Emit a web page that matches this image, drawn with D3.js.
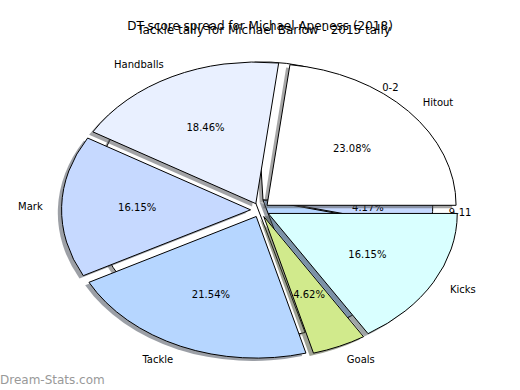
<!DOCTYPE html>
<html><head><meta charset="utf-8">
<script src="https://cdn.jsdelivr.net/npm/d3@7/dist/d3.min.js"></script>
<style>
html,body{margin:0;padding:0;background:#fff;}
text{font-family:"DejaVu Sans",sans-serif;}
</style></head>
<body><div id="chart"></div>
<script>
// Foreground chart: Tackle tally for Michael Barlow - 2015
const fgTitle = "Tackle tally for Michael Barlow - 2015 tally";
const fgCategories = ["Hitout","Handballs","Mark","Tackle","Goals","Kicks"];
const fgValues = [30,24,21,28,6,21];
const fgColors = ["#ffffff","#e9f0ff","#c6d9ff","#b6d6ff","#d1ea8c","#d9ffff"];
const fgExplode = [0.05,0.05,0.05,0.05,0.05,0.05];

// Background chart (mostly hidden): DT score spread for Michael Apeness (2018)
const bgTitle = "DT score spread for Michael Apeness (2018)";
const bgCategories = ["9-11","0-2","3-5","6-8"];
const bgValues = [2,12,26,8];
const bgColors = ["#c6d9ff","#ffffff","#ffffff","#b6d6ff"];
const bgExplode = [0.05,0,0.05,0];

const watermark = "Dream-Stats.com";

const W=520,H=390;
const svg=d3.select("#chart").append("svg").attr("width",W).attr("height",H);

function drawPie(cfg, cats, vals, cols, expl){
  const g=svg.append("g");
  const total=d3.sum(vals);
  const a0=Math.PI/2 - cfg.startDeg*Math.PI/180;
  const pie=d3.pie().sort(null).value(d=>d.v).startAngle(a0).endAngle(a0-2*Math.PI);
  const arcs=pie(cats.map((c,i)=>({c,v:vals[i],col:cols[i],e:expl[i]})));
  const arc=d3.arc().innerRadius(0).outerRadius(1);
  const off=d=>{const a=(d.startAngle+d.endAngle)/2;return [d.data.e*cfg.rx*Math.sin(a), -d.data.e*cfg.ry*Math.cos(a)];};
  g.selectAll("path.sh").data(arcs).join("path").attr("class","sh")
    .attr("d",arc)
    .attr("transform",d=>{const o=off(d);return `translate(${cfg.cx+o[0]-0.02*cfg.rx},${cfg.cy+o[1]+0.02*cfg.ry}) scale(${cfg.rx},${cfg.ry})`;})
    .attr("fill",d=>{const c=d3.rgb(d.data.col);return d3.rgb(c.r*0.3,c.g*0.3,c.b*0.3).toString();})
    .attr("fill-opacity",0.5).attr("stroke","none");
  g.selectAll("path.w").data(arcs).join("path").attr("class","w")
    .attr("d",arc)
    .attr("transform",d=>{const o=off(d);return `translate(${cfg.cx+o[0]},${cfg.cy+o[1]}) scale(${cfg.rx},${cfg.ry})`;})
    .attr("fill",d=>d.data.col).attr("stroke","#000").attr("stroke-width",1)
    .attr("vector-effect","non-scaling-stroke");
  arcs.forEach(d=>{
    const a=(d.startAngle+d.endAngle)/2, o=off(d);
    const lx=cfg.cx+o[0]+1.1*cfg.rx*Math.sin(a), ly=cfg.cy+o[1]-1.1*cfg.ry*Math.cos(a);
    g.append("text").attr("x",lx).attr("y",ly).attr("dominant-baseline","central")
      .attr("text-anchor",Math.sin(a)>0?"start":"end").attr("font-size",10).attr("fill","#000").text(d.data.c);
    const px=cfg.cx+o[0]+0.6*cfg.rx*Math.sin(a), py=cfg.cy+o[1]-0.6*cfg.ry*Math.cos(a);
    g.append("text").attr("x",px).attr("y",py).attr("dominant-baseline","central")
      .attr("text-anchor","middle").attr("font-size",10).attr("fill","#000")
      .text((d.data.v/total*100).toFixed(2)+"%");
  });
  g.append("text").attr("x",cfg.tx).attr("y",cfg.ty).attr("text-anchor","middle")
    .attr("font-size",12).attr("fill","#000").text(cfg.title);
}

drawPie({cx:263,cy:200,rx:162,ry:138,startDeg:-12,title:bgTitle,tx:260,ty:30}, bgCategories,bgValues,bgColors,bgExplode);
drawPie({cx:260,cy:210,rx:189,ry:141.6,startDeg:0,title:fgTitle,tx:264,ty:34}, fgCategories,fgValues,fgColors,fgExplode);

svg.append("text").attr("x",0).attr("y",384).attr("font-size",12).attr("fill","#999").text(watermark);
</script></body></html>
